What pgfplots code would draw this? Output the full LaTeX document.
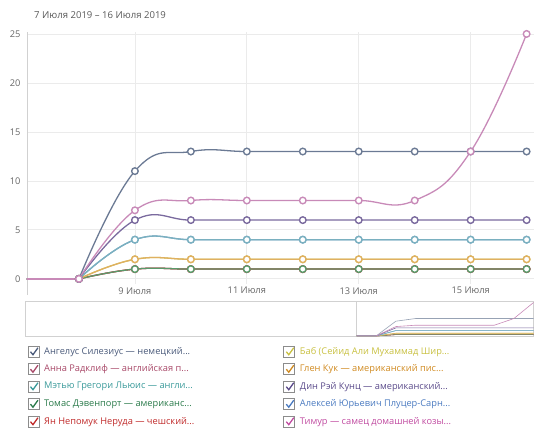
\documentclass[border=0pt]{standalone}
\usepackage{fontspec}
\setmainfont{Open Sans}
\usepackage{pgfplots}
\usepackage{pgfplotstable}
\pgfplotsset{compat=1.18}
\definecolor{cAng}{HTML}{6B7A94}
\definecolor{cAnna}{HTML}{C0607A}
\definecolor{cMat}{HTML}{7AB0C0}
\definecolor{cTom}{HTML}{5A9A6A}
\definecolor{cYan}{HTML}{C84040}
\definecolor{cBab}{HTML}{D0C860}
\definecolor{cGlen}{HTML}{E0B060}
\definecolor{cDin}{HTML}{7A6A9E}
\definecolor{cAlex}{HTML}{7AA8C8}
\definecolor{cTim}{HTML}{C88AB8}
\definecolor{tAng}{HTML}{4A5A7A}
\definecolor{tAnna}{HTML}{A84868}
\definecolor{tMat}{HTML}{3A9A9A}
\definecolor{tTom}{HTML}{2A7A4A}
\definecolor{tYan}{HTML}{C02A2A}
\definecolor{tBab}{HTML}{C8C040}
\definecolor{tGlen}{HTML}{D08A20}
\definecolor{tDin}{HTML}{5A4A8A}
\definecolor{tAlex}{HTML}{4A7AC0}
\definecolor{tTim}{HTML}{C04AA0}
\pgfplotstableread{
day ang anna mat tom yan bab glen din alex tim
7   0   0    0   0   0   0   0    0   0    0
8   0   0    0   0   0   0   0    0   0    0
9   11  1    4   1   1   2   2    6   4    7
10  13  1    4   1   1   2   2    6   4    8
11  13  1    4   1   1   2   2    6   4    8
12  13  1    4   1   1   2   2    6   4    8
13  13  1    4   1   1   2   2    6   4    8
14  13  1    4   1   1   2   2    6   4    8
15  13  1    4   1   1   2   2    6   4    13
16  13  1    4   1   1   2   2    6   4    25
}\data
\newcommand{\series}[2]{%
  \addplot[#1, no marks, sharp plot, restrict x to domain=7:8] table[x=day, y=#2] {\data};
  \addplot[#1, smooth, tension=0.75, mark=*, mark options={fill=white, line width=1.4pt, solid}, restrict x to domain=8:16] table[x=day, y=#2] {\data};
}
\begin{document}
\begin{tikzpicture}
\path (0bp,0bp) rectangle (534bp,432bp);
\node[anchor=west, font=\fontsize{9.6}{11}\selectfont, text=black!65, inner sep=0] at (34bp,416.5bp) {7 Июля 2019 – 16 Июля 2019};
\begin{axis}[at={(27bp,148bp)}, anchor=south west, scale only axis,
  width=507bp, height=252bp,
  xmin=7.071, xmax=16.125, ymin=-0.5, ymax=25.2,
  axis y line*=left, axis x line*=bottom,
  x axis line style={draw=none},
  y axis line style={-, draw=black!18},
  major tick length=0pt,
  xtick={9,11,13,15}, xticklabels={9 Июля,11 Июля,13 Июля,15 Июля},
  ytick={0,5,10,15,20,25},
  grid=major, grid style={black!8, line width=0.8pt},
  ticklabel style={font=\fontsize{9.3}{11}\selectfont, text=black!60},
  /pgf/number format/assume math mode=true,
  yticklabel style={xshift=-3pt},
  every axis plot/.append style={line width=1.3pt, mark size=3.3bp},
]
\series{cAnna}{anna}
\series{cYan}{yan}
\series{cTom}{tom}
\series{cBab}{bab}
\series{cGlen}{glen}
\series{cAlex}{alex}
\series{cMat}{mat}
\series{cDin}{din}
\series{cAng}{ang}
\series{cTim}{tim}
\end{axis}
\draw[black!18, line width=0.8pt] (27bp,148bp) -- (27bp,137bp);
\begin{axis}[at={(25bp,95bp)}, anchor=south west, scale only axis,
  width=509bp, height=35bp,
  xmin=-9.85, xmax=16, ymin=-0.6, ymax=25.5,
  xtick=\empty, ytick=\empty,
  axis line style={draw=black!18, line width=0.8pt},
  every axis plot/.append style={line width=0.6pt, no marks},
]
\draw[black!18, line width=0.8pt] (axis cs:7,-0.6) -- (axis cs:7,25.5);
\addplot[cAnna] table[x=day, y=anna] {\data};
\addplot[cYan] table[x=day, y=yan] {\data};
\addplot[cTom] table[x=day, y=tom] {\data};
\addplot[cBab] table[x=day, y=bab] {\data};
\addplot[cGlen] table[x=day, y=glen] {\data};
\addplot[cAlex] table[x=day, y=alex] {\data};
\addplot[cMat] table[x=day, y=mat] {\data};
\addplot[cDin] table[x=day, y=din] {\data};
\addplot[cAng!70] table[x=day, y=ang] {\data};
\addplot[cTim] table[x=day, y=tim] {\data};
\end{axis}
\foreach \xx/\yy/\cc/\tt in {
 28/352/tAng/{Ангелус Силезиус — немецкий...},
 28/369.5/tAnna/{Анна Радклиф — английская п...},
 28/387/tMat/{Мэтью Грегори Льюис — англи...},
 28/404.5/tTom/{Томас Дэвенпорт — американс...},
 28/422/tYan/{Ян Непомук Неруда — чешский...},
 284/352/tBab/{Баб (Сейид Али Мухаммад Шир...},
 284/369.5/tGlen/{Глен Кук — американский пис...},
 284/387/tDin/{Дин Рэй Кунц — американский...},
 284/404.5/tAlex/{Алексей Юрьевич Плуцер-Сарн...},
 284/422/tTim/{Тимур — самец домашней козы...}}{
  \pgfmathsetmacro{\yc}{432-\yy}
  \draw[black!45, fill=white, line width=0.6pt] (\xx bp,\yc bp-5.5bp) rectangle (\xx bp+11bp,\yc bp+5.5bp);
  \draw[\cc, line width=1.3pt] (\xx bp+2.5bp,\yc bp) -- (\xx bp+5bp,\yc bp-3bp) -- (\xx bp+10bp,\yc bp+4bp);
  \node[anchor=west, inner sep=0, text=\cc, font=\fontsize{9.3}{11}\selectfont] at (\xx bp+16bp,\yc bp) {\tt};
}
\end{tikzpicture}
\end{document}
